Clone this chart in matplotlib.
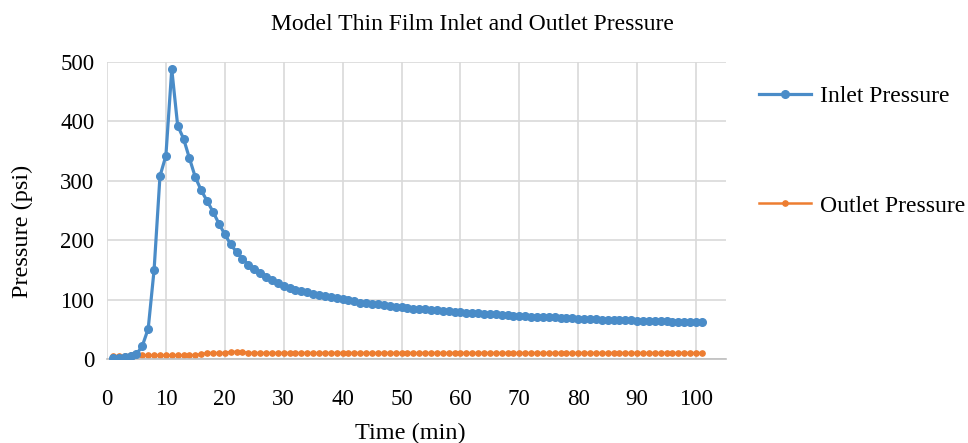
import matplotlib
matplotlib.use("Agg")
import matplotlib.pyplot as plt

time_min = list(range(1, 102))
inlet_psi = [2, 2, 3, 5, 8, 22, 51, 150, 308, 342,
             488, 393, 371, 338, 306, 284, 266, 248, 228, 210,
             193, 180, 169, 159, 151, 144, 138, 133, 128, 123,
             120, 117, 114, 112, 110, 108, 106, 104, 102, 101,
             99, 97, 95, 94, 93, 92, 90.5, 89.5, 88, 87,
             86, 85, 84, 83.5, 82.5, 82, 81, 80, 79.5, 78.5,
             78, 77.5, 77, 76, 75.5, 75, 74.5, 74, 73, 72.5,
             72, 71.5, 71, 70.5, 70, 70, 69.5, 69, 68.5, 68,
             67.5, 67, 67, 66.5, 66, 66, 65.5, 65, 65, 64.5,
             64.5, 64, 64, 63.5, 63.5, 63, 63, 62.5, 62.5, 62,
             62]
outlet_psi = [5, 5, 5, 6, 6, 6, 6, 6, 6, 6,
              6, 6, 6, 6, 7, 8, 10, 10, 10, 10,
              12, 12, 12, 10, 10, 10, 10, 10, 10, 10] + [10] * 71

x_ticks = [0, 10, 20, 30, 40, 50, 60, 70, 80, 90, 100]
y_ticks = [0, 100, 200, 300, 400, 500]

plt.rcParams['font.family'] = ['Liberation Serif', 'DejaVu Serif']

fig = plt.figure(figsize=(9.68, 4.43), dpi=100)
ax = fig.add_axes([0.1105, 0.1896, 0.639, 0.6704])

ax.plot(time_min, inlet_psi, color='#4A8CC8', lw=2.3, marker='o', ms=5.5,
        label='Inlet Pressure', zorder=3)
ax.plot(time_min, outlet_psi, color='#ED7D31', lw=1.8, marker='o', ms=3.8,
        label='Outlet Pressure', zorder=2)

ax.set_xlim(0, 105)
ax.set_ylim(0, 500)
ax.set_xticks(x_ticks)
ax.set_yticks(y_ticks)
ax.grid(True, color='#D9D9D9', lw=1.2)
ax.set_axisbelow(True)
for s in ['top', 'right', 'left']:
    ax.spines[s].set_visible(False)
ax.spines['bottom'].set_color('#BFBFBF')
ax.spines['bottom'].set_linewidth(1.2)
ax.tick_params(length=0, labelsize=16.5)
ax.tick_params(axis='x', pad=21.5)
ax.tick_params(axis='y', pad=9)
ax.set_xlabel('Time (min)', fontsize=17.5)
ax.set_ylabel('Pressure (psi)', fontsize=17.5)
ax.xaxis.set_label_coords(0.49, -0.215)
ax.yaxis.set_label_coords(-0.12, 0.43)

fig.text(0.488, 0.945, 'Model Thin Film Inlet and Outlet Pressure',
         ha='center', va='center', fontsize=17)

h, l = ax.get_legend_handles_labels()
fig.legend([h[0]], [l[0]], loc='center left', bbox_to_anchor=(0.784, 0.782),
           frameon=False, fontsize=17, handlelength=2.2, handletextpad=0.4,
           borderaxespad=0, borderpad=0)
fig.legend([h[1]], [l[1]], loc='center left', bbox_to_anchor=(0.784, 0.535),
           frameon=False, fontsize=17, handlelength=2.2, handletextpad=0.4,
           borderaxespad=0, borderpad=0)

fig.savefig('out.png', dpi=100)
